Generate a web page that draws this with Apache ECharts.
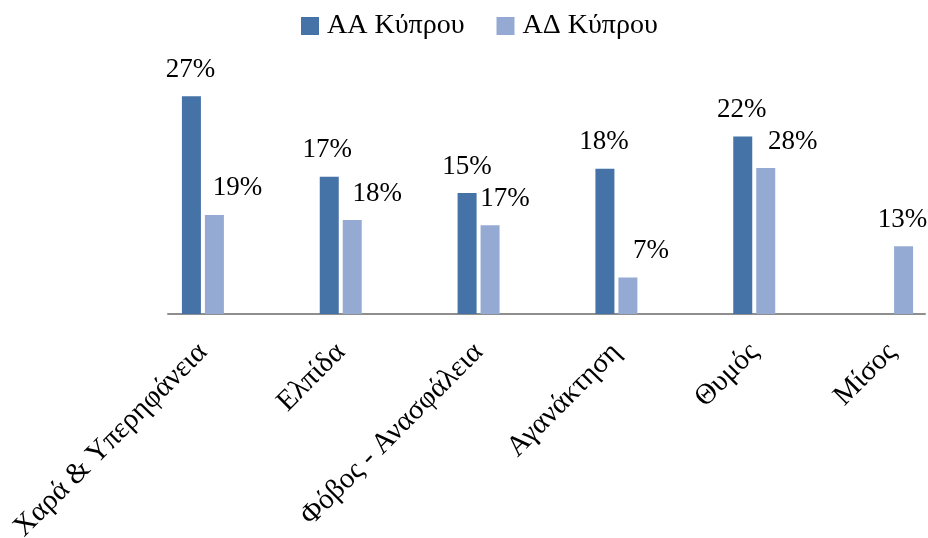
<!DOCTYPE html>
<html>
<head>
<meta charset="utf-8">
<script src="https://cdn.jsdelivr.net/npm/echarts@6/dist/echarts.min.js"></script>
<style>
html,body{margin:0;padding:0;background:#fff;}
#chart{width:928px;height:538px;}
</style>
</head>
<body>
<div id="chart"></div>
<script>
// ---- data ----
const categories = ['Χαρά & Υπερηφάνεια', 'Ελπίδα', 'Φόβος - Ανασφάλεια', 'Αγανάκτηση', 'Θυμός', 'Μίσος'];
const seriesNames = ['ΑΑ Κύπρου', 'ΑΔ Κύπρου'];
const aaValues = [27, 17, 15, 18, 22, null];
const adValues = [19, 18, 17, 7, 28, 13];

// ---- style ----
const FONT = "'Liberation Serif', 'Times New Roman', serif";
const COLORS = ['#4572A7', '#95AAD2'];
const aaLabelShift = [-1, -2, 0, -1, -1, 0];
const adLabelShift = [23, 25, 15, 23, 27, -1];

function items(values, shifts) {
  return values.map((v, i) => (v === null ? '-' : { value: v, label: { offset: [shifts[i], 0] } }));
}

const chart = echarts.init(document.getElementById('chart'));
const labelStyle = {
  show: true,
  position: 'top',
  distance: 13,
  formatter: '{c}%',
  color: '#000',
  fontFamily: FONT,
  fontSize: 27
};

chart.setOption({
  animation: false,
  color: COLORS,
  legend: {
    left: 296,
    top: 7,
    itemWidth: 18,
    itemHeight: 18,
    itemGap: 32,
    icon: 'rect',
    textStyle: { fontFamily: FONT, fontSize: 28, color: '#000', padding: [0, 0, 0, 3] },
    data: seriesNames
  },
  grid: [
    { left: 134, width: 827, top: 72, bottom: 224, containLabel: false, outerBoundsMode: 'none' },
    { left: 168, right: 3, top: 72, bottom: 224, containLabel: false, outerBoundsMode: 'none' }
  ],
  xAxis: [
    {
      type: 'category',
      gridIndex: 0,
      data: categories,
      axisLine: { show: false },
      axisTick: { show: false },
      axisLabel: {
        interval: 0,
        rotate: 45,
        margin: 34,
        color: '#000',
        fontFamily: FONT,
        fontSize: 29
      }
    },
    {
      type: 'category',
      gridIndex: 1,
      data: categories,
      axisLine: { show: true, lineStyle: { color: '#8E8E8E', width: 2 } },
      axisTick: { show: false },
      axisLabel: { show: false }
    }
  ],
  yAxis: [
    { type: 'value', gridIndex: 0, min: 0, max: 30, show: false },
    { type: 'value', gridIndex: 0, min: 0, max: 46.4, show: false },
    { type: 'value', gridIndex: 1, min: 0, max: 1, show: false }
  ],
  series: [
    {
      name: seriesNames[0],
      type: 'bar',
      xAxisIndex: 0,
      yAxisIndex: 0,
      barWidth: 19,
      barGap: '21%',
      label: labelStyle,
      data: items(aaValues, aaLabelShift)
    },
    {
      name: seriesNames[1],
      type: 'bar',
      xAxisIndex: 0,
      yAxisIndex: 1,
      barWidth: 19,
      barGap: '21%',
      label: labelStyle,
      data: items(adValues, adLabelShift)
    }
  ]
});
</script>
</body>
</html>
